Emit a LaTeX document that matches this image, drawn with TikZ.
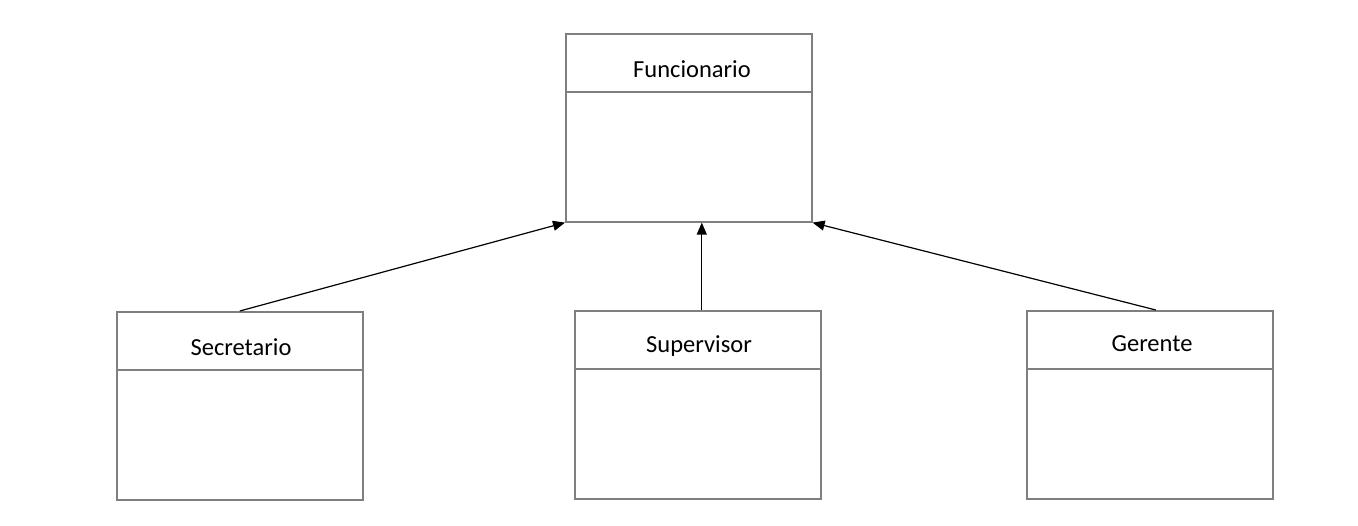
\documentclass[tikz,border=0pt]{standalone}
\usepackage{fontspec}
\setmainfont{Carlito}
\usetikzlibrary{arrows.meta}
\definecolor{boxgray}{HTML}{7F7F7F}
\begin{document}
\begin{tikzpicture}[x=1pt,y=-1pt,
  classbox/.style={draw=boxgray,line width=1.6pt,minimum width=246pt,minimum height=188pt,inner sep=0pt,anchor=north west},
  title/.style={font=\fontsize{24.5}{28}\selectfont,inner sep=0pt},
  divider/.style={draw=boxgray,line width=1.4pt},
  inherit/.style={draw=black,line width=1.2pt,-{Triangle[length=12pt,width=10pt]}}]
\useasboundingbox[fill=white] (0,0) rectangle (1358,526);
% boxes
\node[classbox] (fun) at (565,33) {};
\node[classbox] (sec) at (116,311) {};
\node[classbox] (sup) at (574,310) {};
\node[classbox] (ger) at (1026,310) {};
% titles
\node[title] (funT) at (692,69) {Funcionario};
\node[title] (secT) at (241,347) {Secretario};
\node[title] (supT) at (699,346) {Supervisor};
\node[title] (gerT) at (1152,344) {Gerente};
% dividers
\draw[divider] ([yshift=-59pt]fun.north west) -- ([yshift=-59pt]fun.north east);
\draw[divider] ([yshift=-59pt]sec.north west) -- ([yshift=-59pt]sec.north east);
\draw[divider] ([yshift=-59pt]sup.north west) -- ([yshift=-59pt]sup.north east);
\draw[divider] ([yshift=-59pt]ger.north west) -- ([yshift=-59pt]ger.north east);
% connectors
\coordinate (secTop) at (sec.north);
\coordinate (supTop) at ([xshift=4pt]sup.north);
\coordinate (gerTop) at ([xshift=6pt]ger.north);
\draw[inherit] (secTop) -- (fun.south west);
\draw[inherit] (supTop) -- (supTop |- fun.south);
\draw[inherit] (gerTop) -- (fun.south east);
\end{tikzpicture}
\end{document}
